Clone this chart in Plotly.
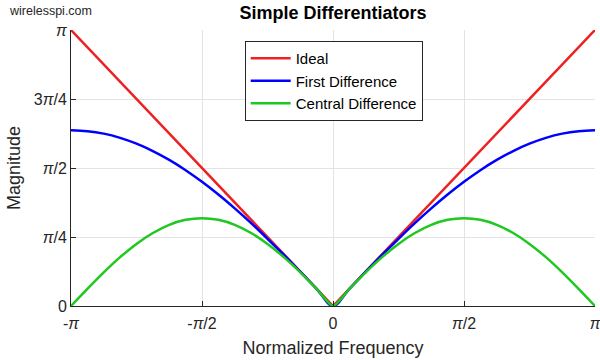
import math
import plotly.graph_objects as go

# Normalized frequency in units of pi
freq_pi = [-1.0, -0.9375, -0.875, -0.8125, -0.75, -0.6875, -0.625, -0.5625, -0.5,
           -0.4375, -0.375, -0.3125, -0.25, -0.1875, -0.125, -0.0625, 0.0,
           0.0625, 0.125, 0.1875, 0.25, 0.3125, 0.375, 0.4375, 0.5,
           0.5625, 0.625, 0.6875, 0.75, 0.8125, 0.875, 0.9375, 1.0]

ideal_freq_pi = [-1.0, 0.0, 1.0]
ideal_mag = [3.1416, 0.0, 3.1416]

first_diff = [2.000, 1.990, 1.962, 1.914, 1.848, 1.764, 1.663, 1.546, 1.414,
              1.269, 1.111, 0.943, 0.765, 0.581, 0.390, 0.196, 0.000,
              0.196, 0.390, 0.581, 0.765, 0.943, 1.111, 1.269, 1.414,
              1.546, 1.663, 1.764, 1.848, 1.914, 1.962, 1.990, 2.000]

central_diff = [0.000, 0.195, 0.383, 0.556, 0.707, 0.831, 0.924, 0.981, 1.000,
                0.981, 0.924, 0.831, 0.707, 0.556, 0.383, 0.195, 0.000,
                0.195, 0.383, 0.556, 0.707, 0.831, 0.924, 0.981, 1.000,
                0.981, 0.924, 0.831, 0.707, 0.556, 0.383, 0.195, 0.000]

x_tick_vals = [-1, -0.5, 0, 0.5, 1]
x_tick_text = ["-<i>π</i>", "-<i>π</i>/2", "0", "<i>π</i>/2", "<i>π</i>"]
y_tick_vals = [0, math.pi / 4, math.pi / 2, 3 * math.pi / 4, math.pi]
y_tick_text = ["0", "<i>π</i>/4", "<i>π</i>/2", "3<i>π</i>/4", "<i>π</i>"]

fig = go.Figure()
fig.add_trace(go.Scatter(x=ideal_freq_pi, y=ideal_mag, mode="lines", name="Ideal",
                         line=dict(color="#ee2020", width=2.5)))
fig.add_trace(go.Scatter(x=freq_pi, y=first_diff, mode="lines", name="First Difference",
                         line=dict(color="#0000ff", width=2.5, shape="spline")))
fig.add_trace(go.Scatter(x=freq_pi, y=central_diff, mode="lines", name="Central Difference",
                         line=dict(color="#1ec81e", width=2.5, shape="spline", smoothing=0.6)))

fig.update_layout(
    width=600, height=360,
    margin=dict(l=71, r=5, t=30, b=54, autoexpand=False),
    paper_bgcolor="white", plot_bgcolor="white",
    font=dict(family="Liberation Sans, Arial, sans-serif", color="#262626"),
    title=dict(text="<b>Simple Differentiators</b>", x=0.555, xanchor="center",
               y=0.965, yanchor="middle", font=dict(size=18, color="black")),
    showlegend=True,
    legend=dict(x=0.3315, y=0.96, xanchor="left", yanchor="top",
                bgcolor="white", bordercolor="#262626", borderwidth=1,
                font=dict(size=15, color="black"), tracegroupgap=0,
                itemwidth=40),
    annotations=[dict(text="wirelesspi.com", xref="paper", yref="paper",
                      x=-0.122, y=1.07, xanchor="left", yanchor="middle",
                      showarrow=False, font=dict(size=12.5, color="#262626"))],
)
fig.update_xaxes(range=[-1, 1], tickvals=x_tick_vals, ticktext=x_tick_text,
                 showgrid=True, gridcolor="#e3e3e3", gridwidth=1,
                 zeroline=False, showline=True, linecolor="#262626", linewidth=1,
                 ticks="inside", ticklen=5, tickcolor="#262626",
                 ticklabeloverflow="allow", ticklabelstandoff=3,
                 tickfont=dict(size=16, color="#262626"),
                 title=dict(text="Normalized Frequency", font=dict(size=18, color="#262626"), standoff=10))
fig.update_yaxes(range=[0, math.pi], tickvals=y_tick_vals, ticktext=y_tick_text,
                 showgrid=True, gridcolor="#e3e3e3", gridwidth=1,
                 zeroline=False, showline=True, linecolor="#262626", linewidth=1,
                 ticks="inside", ticklen=5, tickcolor="#262626",
                 ticklabeloverflow="allow",
                 tickfont=dict(size=16, color="#262626"),
                 title=dict(text="Magnitude", font=dict(size=18, color="#262626"), standoff=8))

fig.write_html("out.html", config={"displayModeBar": False},
               post_script="document.body.style.margin='0';document.body.style.overflow='hidden';")
